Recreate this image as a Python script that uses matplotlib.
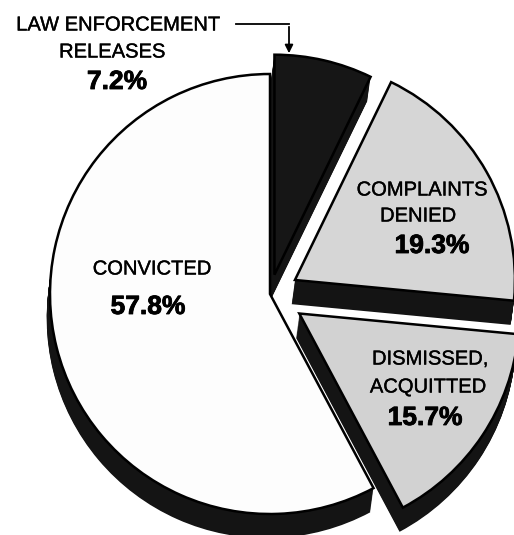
import numpy as np
import matplotlib.pyplot as plt
import matplotlib.patheffects as pe

plt.rcParams['font.family'] = ['Liberation Sans', 'DejaVu Sans']

# case outcomes, clockwise from 12 o'clock
labels = ["LAW ENFORCEMENT\nRELEASES", "COMPLAINTS\nDENIED", "DISMISSED,\nACQUITTED", "CONVICTED"]
shares = [7.2, 19.3, 15.7, 57.8]
explode = [0.09, 0.13, 0.16, 0.0]
face_colors = ["#161616", "#d6d6d6", "#d2d2d2", "#fdfdfd"]
side_color = "#141414"

# pixel -> data helpers (1 radius = 220 px, centre at px 270,294)
R = 220.0
CX, CY = 270.0, 294.0
def X(px):
    return (px - CX) / R
def Y(py):
    return (CY - py) / R

fig = plt.figure(figsize=(5.14, 5.35), dpi=100)
ax = fig.add_axes([0, 0, 1, 1])

# fake 3d thickness: stack of dark pies pushed downward
depth = 0.11
shift_x = -0.015
for t in np.linspace(1, 0, 30):
    w, _ = ax.pie(shares, explode=explode, startangle=90, counterclock=False,
                  colors=[side_color] * 4, center=(shift_x * t, -depth * t),
                  wedgeprops=dict(linewidth=0))

# top faces
wedges, _ = ax.pie(shares, explode=explode, startangle=90, counterclock=False,
                   colors=face_colors,
                   wedgeprops=dict(edgecolor="black", linewidth=1.8))

ax.set_xlim(X(0), X(514))
ax.set_ylim(Y(535), Y(0))
ax.set_aspect('equal')
ax.axis('off')

name_fs = 14.5
pct_fs = 19

def label(px, py, s, bold=False):
    stroke = [pe.withStroke(linewidth=0.6 if bold else 0.25, foreground='black')]
    ax.text(X(px), Y(py), s, ha='center', va='center',
            fontsize=pct_fs if bold else name_fs,
            fontweight='bold' if bold else 'normal', path_effects=stroke)

# law enforcement label + arrow
label(118, 25, "LAW ENFORCEMENT")
label(112, 52, "RELEASES")
label(117, 82, f"{shares[0]}%", bold=True)
ax.plot([X(236), X(289)], [Y(24), Y(24)], color='black', lw=1.3)
ax.annotate("", xy=(X(289), Y(56)), xytext=(X(289), Y(24)),
            arrowprops=dict(arrowstyle='-|>', color='black', lw=1.3, mutation_scale=12))

# complaints denied
label(422, 190, "COMPLAINTS")
label(418, 216, "DENIED")
label(432, 246, f"{shares[1]}%", bold=True)

# dismissed / acquitted
label(430, 359, "DISMISSED,")
label(428, 387, "ACQUITTED")
label(425, 418, f"{shares[2]}%", bold=True)

# convicted
label(152, 269, "CONVICTED")
label(148, 307, f"{shares[3]}%", bold=True)

fig.savefig("out.png", dpi=100, facecolor='white')
